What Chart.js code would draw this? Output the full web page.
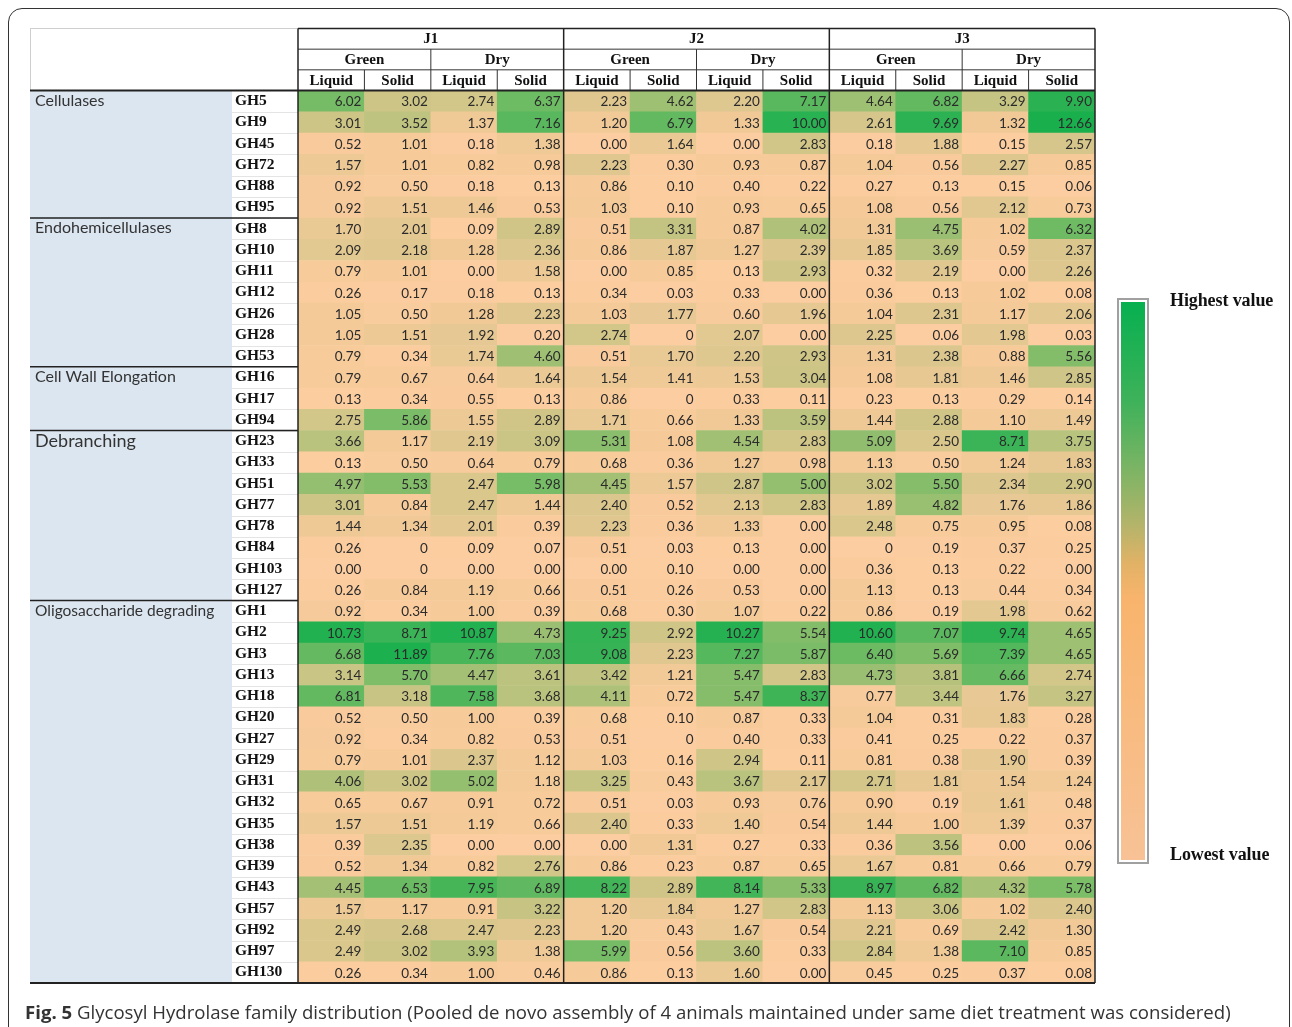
<!DOCTYPE html>
<html>
<head>
<meta charset="utf-8">
<script src="https://cdn.jsdelivr.net/npm/chart.js@4/dist/chart.umd.min.js"></script>
<style>
  html, body { margin: 0; padding: 0; background: #fff; overflow: hidden; }
  body { width: 1292px; height: 1027px; position: relative; }
  #frame { position: absolute; left: 8px; top: 8px; width: 1280px; height: 1100px;
           border: 1.5px solid #333; border-radius: 14px; }
  canvas { position: absolute; left: 0; top: 0; }
  .lg { position: absolute; left: 1170px; font: bold 18px "Liberation Serif"; letter-spacing: -0.1px;
        color: #111; line-height: 18px; white-space: nowrap; }
  #bar { position: absolute; left: 1117px; top: 298px; width: 24px; height: 558px;
         border: 2px solid #a0a0a0; padding: 2px; background: #fff; }
  #bar div { width: 100%; height: 100%;
             background: linear-gradient(to bottom, #06b04f 0%, #3fb25a 18%, #7cb464 30%, #b4b46a 40%,
                         #e2b266 47%, #f8b46c 53%, #f8bb80 75%, #f8c296 100%); }
  #cap { position: absolute; left: 25px; top: 999px; font: 18.6px "Open Sans"; color: #333; white-space: nowrap; }
</style>
</head>
<body>
<div id="frame"></div>
<canvas id="heat" width="1292" height="1027"></canvas>
<div id="bar"><div></div></div>
<div class="lg" style="top:291px">Highest value</div>
<div class="lg" style="top:845px">Lowest value</div>
<div id="cap"><b>Fig. 5</b> Glycosyl Hydrolase family distribution (Pooled de novo assembly of 4 animals maintained under same diet treatment was considered)</div>
<script>
  // header levels
  const sites = ['J1', 'J2', 'J3'];
  const diets = ['Green', 'Dry'];
  const fractions = ['Liquid', 'Solid'];

  // row groups
  const groupNames = ['Cellulases', 'Endohemicellulases', 'Cell Wall Elongation', 'Debranching', 'Oligosaccharide degrading'];
  const groupSizes = [6, 7, 3, 8, 18];

  const families = [
    'GH5', 'GH9', 'GH45', 'GH72', 'GH88', 'GH95',
    'GH8', 'GH10', 'GH11', 'GH12', 'GH26', 'GH28', 'GH53',
    'GH16', 'GH17', 'GH94',
    'GH23', 'GH33', 'GH51', 'GH77', 'GH78', 'GH84', 'GH103', 'GH127',
    'GH1', 'GH2', 'GH3', 'GH13', 'GH18', 'GH20', 'GH27', 'GH29', 'GH31', 'GH32',
    'GH35', 'GH38', 'GH39', 'GH43', 'GH57', 'GH92', 'GH97', 'GH130'
  ];

  // values as printed: J1 (GL GS DL DS), J2 (...), J3 (...)
  const values = [
    ['6.02', '3.02', '2.74', '6.37', '2.23', '4.62', '2.20', '7.17', '4.64', '6.82', '3.29', '9.90'],
    ['3.01', '3.52', '1.37', '7.16', '1.20', '6.79', '1.33', '10.00', '2.61', '9.69', '1.32', '12.66'],
    ['0.52', '1.01', '0.18', '1.38', '0.00', '1.64', '0.00', '2.83', '0.18', '1.88', '0.15', '2.57'],
    ['1.57', '1.01', '0.82', '0.98', '2.23', '0.30', '0.93', '0.87', '1.04', '0.56', '2.27', '0.85'],
    ['0.92', '0.50', '0.18', '0.13', '0.86', '0.10', '0.40', '0.22', '0.27', '0.13', '0.15', '0.06'],
    ['0.92', '1.51', '1.46', '0.53', '1.03', '0.10', '0.93', '0.65', '1.08', '0.56', '2.12', '0.73'],
    ['1.70', '2.01', '0.09', '2.89', '0.51', '3.31', '0.87', '4.02', '1.31', '4.75', '1.02', '6.32'],
    ['2.09', '2.18', '1.28', '2.36', '0.86', '1.87', '1.27', '2.39', '1.85', '3.69', '0.59', '2.37'],
    ['0.79', '1.01', '0.00', '1.58', '0.00', '0.85', '0.13', '2.93', '0.32', '2.19', '0.00', '2.26'],
    ['0.26', '0.17', '0.18', '0.13', '0.34', '0.03', '0.33', '0.00', '0.36', '0.13', '1.02', '0.08'],
    ['1.05', '0.50', '1.28', '2.23', '1.03', '1.77', '0.60', '1.96', '1.04', '2.31', '1.17', '2.06'],
    ['1.05', '1.51', '1.92', '0.20', '2.74', '0', '2.07', '0.00', '2.25', '0.06', '1.98', '0.03'],
    ['0.79', '0.34', '1.74', '4.60', '0.51', '1.70', '2.20', '2.93', '1.31', '2.38', '0.88', '5.56'],
    ['0.79', '0.67', '0.64', '1.64', '1.54', '1.41', '1.53', '3.04', '1.08', '1.81', '1.46', '2.85'],
    ['0.13', '0.34', '0.55', '0.13', '0.86', '0', '0.33', '0.11', '0.23', '0.13', '0.29', '0.14'],
    ['2.75', '5.86', '1.55', '2.89', '1.71', '0.66', '1.33', '3.59', '1.44', '2.88', '1.10', '1.49'],
    ['3.66', '1.17', '2.19', '3.09', '5.31', '1.08', '4.54', '2.83', '5.09', '2.50', '8.71', '3.75'],
    ['0.13', '0.50', '0.64', '0.79', '0.68', '0.36', '1.27', '0.98', '1.13', '0.50', '1.24', '1.83'],
    ['4.97', '5.53', '2.47', '5.98', '4.45', '1.57', '2.87', '5.00', '3.02', '5.50', '2.34', '2.90'],
    ['3.01', '0.84', '2.47', '1.44', '2.40', '0.52', '2.13', '2.83', '1.89', '4.82', '1.76', '1.86'],
    ['1.44', '1.34', '2.01', '0.39', '2.23', '0.36', '1.33', '0.00', '2.48', '0.75', '0.95', '0.08'],
    ['0.26', '0', '0.09', '0.07', '0.51', '0.03', '0.13', '0.00', '0', '0.19', '0.37', '0.25'],
    ['0.00', '0', '0.00', '0.00', '0.00', '0.10', '0.00', '0.00', '0.36', '0.13', '0.22', '0.00'],
    ['0.26', '0.84', '1.19', '0.66', '0.51', '0.26', '0.53', '0.00', '1.13', '0.13', '0.44', '0.34'],
    ['0.92', '0.34', '1.00', '0.39', '0.68', '0.30', '1.07', '0.22', '0.86', '0.19', '1.98', '0.62'],
    ['10.73', '8.71', '10.87', '4.73', '9.25', '2.92', '10.27', '5.54', '10.60', '7.07', '9.74', '4.65'],
    ['6.68', '11.89', '7.76', '7.03', '9.08', '2.23', '7.27', '5.87', '6.40', '5.69', '7.39', '4.65'],
    ['3.14', '5.70', '4.47', '3.61', '3.42', '1.21', '5.47', '2.83', '4.73', '3.81', '6.66', '2.74'],
    ['6.81', '3.18', '7.58', '3.68', '4.11', '0.72', '5.47', '8.37', '0.77', '3.44', '1.76', '3.27'],
    ['0.52', '0.50', '1.00', '0.39', '0.68', '0.10', '0.87', '0.33', '1.04', '0.31', '1.83', '0.28'],
    ['0.92', '0.34', '0.82', '0.53', '0.51', '0', '0.40', '0.33', '0.41', '0.25', '0.22', '0.37'],
    ['0.79', '1.01', '2.37', '1.12', '1.03', '0.16', '2.94', '0.11', '0.81', '0.38', '1.90', '0.39'],
    ['4.06', '3.02', '5.02', '1.18', '3.25', '0.43', '3.67', '2.17', '2.71', '1.81', '1.54', '1.24'],
    ['0.65', '0.67', '0.91', '0.72', '0.51', '0.03', '0.93', '0.76', '0.90', '0.19', '1.61', '0.48'],
    ['1.57', '1.51', '1.19', '0.66', '2.40', '0.33', '1.40', '0.54', '1.44', '1.00', '1.39', '0.37'],
    ['0.39', '2.35', '0.00', '0.00', '0.00', '1.31', '0.27', '0.33', '0.36', '3.56', '0.00', '0.06'],
    ['0.52', '1.34', '0.82', '2.76', '0.86', '0.23', '0.87', '0.65', '1.67', '0.81', '0.66', '0.79'],
    ['4.45', '6.53', '7.95', '6.89', '8.22', '2.89', '8.14', '5.33', '8.97', '6.82', '4.32', '5.78'],
    ['1.57', '1.17', '0.91', '3.22', '1.20', '1.84', '1.27', '2.83', '1.13', '3.06', '1.02', '2.40'],
    ['2.49', '2.68', '2.47', '2.23', '1.20', '0.43', '1.67', '0.54', '2.21', '0.69', '2.42', '1.30'],
    ['2.49', '3.02', '3.93', '1.38', '5.99', '0.56', '3.60', '0.33', '2.84', '1.38', '7.10', '0.85'],
    ['0.26', '0.34', '1.00', '0.46', '0.86', '0.13', '1.60', '0.00', '0.45', '0.25', '0.37', '0.08']
  ];

  // colour scale (value -> rgb)
  const stops = [
    [0, [252, 205, 160]], [1, [246, 202, 153]], [2, [228, 200, 146]], [3, [205, 197, 134]],
    [4.5, [162, 192, 116]], [6, [118, 188, 102]], [8, [68, 181, 88]], [10.5, [34, 177, 80]], [13, [24, 175, 77]]
  ];
  function heatColor(v) {
    for (let i = 1; i < stops.length; i++) {
      if (v <= stops[i][0]) {
        const [a, ca] = stops[i - 1], [b, cb] = stops[i];
        const t = (v - a) / (b - a);
        const c = ca.map((x, k) => Math.round(x + (cb[k] - x) * t));
        return 'rgb(' + c.join(',') + ')';
      }
    }
    return 'rgb(24,175,77)';
  }

  const cells = [];
  values.forEach((row, r) => row.forEach((txt, c) => {
    cells.push({ y: families[r], x: [c, c + 1], v: parseFloat(txt), t: txt });
  }));

  const TABLE_LEFT = 30;
  const GROUP_RIGHT = 232;
  const HEAD_H = 62;
  const groupFont = [16, 16, 16, 18, 15.5];

  const tablePlugin = {
    id: 'tablePlugin',
    beforeDatasetsDraw(chart) {
      const { ctx, chartArea: a, scales: { x, y } } = chart;
      const rh = y.getPixelForValue(1) - y.getPixelForValue(0);
      ctx.save();
      // group column
      ctx.fillStyle = '#dce6f1';
      ctx.fillRect(TABLE_LEFT, a.top, GROUP_RIGHT - TABLE_LEFT, a.bottom - a.top);
      // faint separators in family column
      ctx.strokeStyle = '#e4e4e4';
      ctx.lineWidth = 1;
      for (let r = 1; r < families.length; r++) {
        const yy = Math.round(y.getPixelForValue(r) - rh / 2) + 0.5;
        ctx.beginPath(); ctx.moveTo(GROUP_RIGHT, yy); ctx.lineTo(a.left, yy); ctx.stroke();
      }
      // group labels
      ctx.fillStyle = '#333';
      ctx.textBaseline = 'middle';
      ctx.textAlign = 'left';
      let start = 0;
      groupNames.forEach((g, i) => {
        ctx.font = groupFont[i] + 'px Lato';
        ctx.fillText(g, TABLE_LEFT + 5, y.getPixelForValue(start) + (i === 3 ? 0 : -0.5));
        start += groupSizes[i];
      });
      // header
      const hTop = a.top - HEAD_H;
      const hh = HEAD_H / 3;
      ctx.fillStyle = '#111';
      ctx.textAlign = 'center';
      ctx.font = 'bold 15px "Liberation Serif"';
      const colW = x.getPixelForValue(1) - x.getPixelForValue(0);
      sites.forEach((s, si) => {
        const x0 = x.getPixelForValue(si * 4);
        ctx.fillText(s, x0 + colW * 2, hTop + hh * 0.5);
        diets.forEach((d, di) => {
          const x1 = x.getPixelForValue(si * 4 + di * 2);
          ctx.fillText(d, x1 + colW, hTop + hh * 1.5 + 1);
          fractions.forEach((f, fi) => {
            const x2 = x.getPixelForValue(si * 4 + di * 2 + fi);
            ctx.fillText(f, x2 + colW / 2, hTop + hh * 2.5 + 1);
          });
        });
      });
      ctx.restore();
    },
    afterDatasetsDraw(chart) {
      const { ctx, chartArea: a, scales: { x, y } } = chart;
      const meta = chart.getDatasetMeta(0);
      ctx.save();
      ctx.font = '13.5px Lato';
      ctx.fillStyle = '#2b2b2b';
      ctx.textAlign = 'right';
      ctx.textBaseline = 'middle';
      meta.data.forEach((el, i) => {
        const right = Math.max(el.x, el.base);
        ctx.fillText(cells[i].t, right - 3, el.y + 1);
      });

      const rh = y.getPixelForValue(1) - y.getPixelForValue(0);
      const hTop = a.top - HEAD_H;
      const hh = HEAD_H / 3;
      const L = a.left, R = a.right;
      const line = (x1, y1, x2, y2, w, c) => {
        ctx.strokeStyle = c; ctx.lineWidth = w;
        ctx.beginPath(); ctx.moveTo(x1, y1); ctx.lineTo(x2, y2); ctx.stroke();
      };
      // faint outline of empty corner cell
      line(TABLE_LEFT, hTop, L, hTop, 1, '#cfcfcf');
      line(TABLE_LEFT + 0.5, hTop, TABLE_LEFT + 0.5, a.top, 1, '#cfcfcf');
      // header grid
      line(L, hTop, R, hTop, 1.5, '#222');
      line(L, hTop + hh, R, hTop + hh, 1, '#333');
      line(L, hTop + 2 * hh, R, hTop + 2 * hh, 1, '#333');
      for (let c = 1; c < 12; c++) {
        const xx = x.getPixelForValue(c);
        if (c % 4 === 0) line(xx, hTop, xx, a.bottom, 1.5, '#222');
        else if (c % 2 === 0) line(xx, hTop + hh, xx, a.top, 1, '#333');
        else line(xx, hTop + 2 * hh, xx, a.top, 1, '#333');
      }
      line(L, hTop, L, a.bottom, 1.5, '#222');
      line(R, hTop, R, a.bottom, 1.5, '#222');
      line(TABLE_LEFT, a.top, R, a.top, 2, '#222');
      line(TABLE_LEFT, a.bottom, R, a.bottom, 2, '#222');
      // group separators
      let start = 0;
      groupSizes.slice(0, -1).forEach(n => {
        start += n;
        const yy = y.getPixelForValue(start) - rh / 2;
        line(TABLE_LEFT, yy, L, yy, 1.5, '#222');
      });
      ctx.restore();
    }
  };

  const columns = [];
  sites.forEach(s => diets.forEach(d => fractions.forEach(f => columns.push(s + ' ' + d + ' ' + f))));

  new Chart(document.getElementById('heat'), {
    type: 'bar',
    data: {
      labels: families,
      datasets: [{
        data: cells,
        backgroundColor: ctx => heatColor(ctx.raw.v),
        borderWidth: 0,
        barPercentage: 1,
        categoryPercentage: 1
      }]
    },
    options: {
      indexAxis: 'y',
      responsive: false,
      devicePixelRatio: 1,
      animation: false,
      layout: { padding: { left: 235, top: 90.5, right: 197, bottom: 44 } },
      plugins: { legend: { display: false }, tooltip: { enabled: false } },
      scales: {
        x: { type: 'linear', min: 0, max: columns.length, display: false },
        y: {
          type: 'category',
          grid: { display: false },
          border: { display: false },
          afterFit: s => { s.width = 63; },
          ticks: {
            crossAlign: 'far',
            padding: 0,
            autoSkip: false,
            color: '#111',
            font: { family: 'Liberation Serif', size: 15.5, weight: 'bold' }
          }
        }
      }
    },
    plugins: [tablePlugin]
  });
</script>
</body>
</html>
